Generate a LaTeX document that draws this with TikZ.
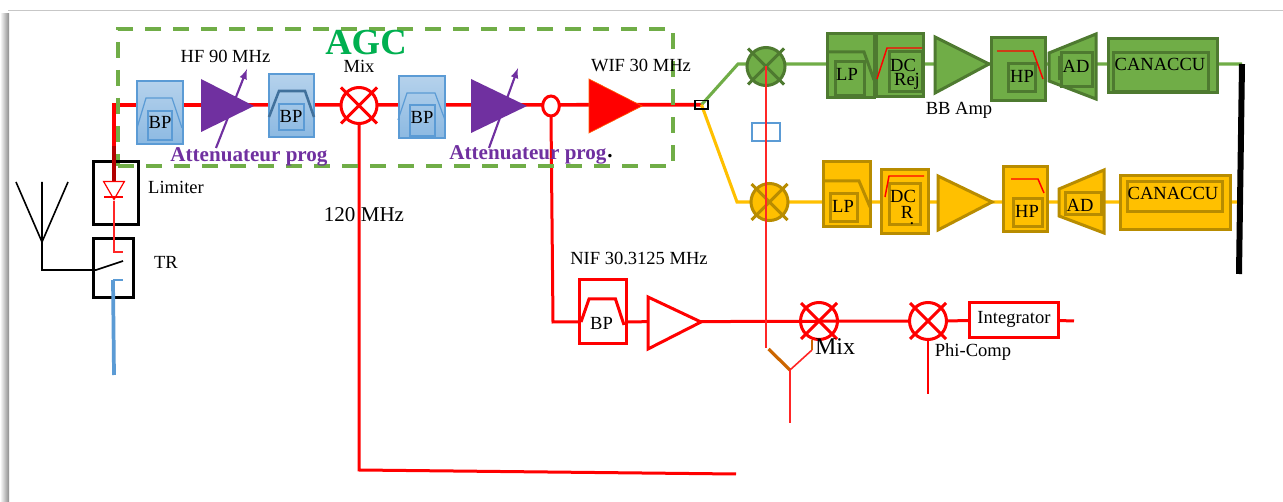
\documentclass[tikz,border=0pt]{standalone}
\usepackage{fontspec}
\setmainfont{Liberation Serif}
\usetikzlibrary{shapes.geometric,backgrounds}
\definecolor{gf}{HTML}{70AD47}\definecolor{gd}{HTML}{4E7A30}
\definecolor{yf}{HTML}{FFC000}\definecolor{yd}{HTML}{B88C00}
\definecolor{bl}{HTML}{5B9BD5}\definecolor{bd}{HTML}{41719C}
\definecolor{pu}{HTML}{7030A0}\definecolor{ag}{HTML}{00B050}
\newcommand\rbox[6]{\node[#1,rectangle,inner sep=0pt,outer sep=0pt,minimum width={(#5-#3)*0.75pt},minimum height={(#6-#4)*0.75pt}] (#2) at ({(#3+#5)/2},{(#4+#6)/2}) {};}
\newcommand\lab[5][lbl]{\node[#1] (#2) at (#3,#4) {#5};}
\newcommand\mixer[6]{\node[#1,circle,inner sep=0pt,outer sep=0pt,minimum size={2*#5*0.75pt}] (#2) at (#3,#4) {};
 \draw[#1,fill=none] (#2.center)+(-#6,-#6) -- +(#6,#6) (#2.center)+(-#6,#6) -- +(#6,-#6);}
\tikzset{x=0.75pt,y=-0.75pt,
 lbl/.style={inner sep=0pt,font=\fontsize{13.9}{14}\selectfont,text=black},
 att/.style={inner sep=0pt,font=\fontsize{15.8}{16}\selectfont\bfseries,text=pu},
 bpa/.style={draw=bl,line width=0.9pt,top color=bl!45!white,bottom color=bl!70!white},
 inb/.style={draw=bl,line width=0.8pt},
 gbox/.style={draw=gd,fill=gf,line width=2.25pt},
 gin/.style={draw=gd,line width=2.25pt},
 ybox/.style={draw=yd,fill=yf,line width=2.25pt},
 yin/.style={draw=yd,line width=2.25pt},
 rbx/.style={draw=red,fill=white,line width=2.25pt},
 kbx/.style={draw=black,line width=2.25pt},
 rline/.style={draw=red,line width=2.7pt},
 rbranch/.style={draw=red,line width=2.25pt},
 rthin/.style={draw=red!85!white,line width=1.2pt},
 rmid/.style={draw=red,line width=1.6pt},
 gline/.style={draw=gf,line width=2.3pt},
 yline/.style={draw=yf,line width=2.3pt},
 rmx/.style={draw=red,fill=white,line width=2.25pt},
 gmx/.style={draw=gd,fill=gf,line width=2.25pt},
 ymx/.style={draw=yd,fill=yf,line width=2.25pt},
 red cut/.style={draw=red,line width=1.1pt},
}
\begin{document}
\begin{tikzpicture}
\useasboundingbox (0,0) rectangle (1283,502);
\begin{scope}[on background layer]
 \fill[white] (0,0) rectangle (1283,502);
 \shade[left color=white,right color=black!45] (0,14) rectangle (9,502);
 \fill[black!22] (8,10) rectangle (1283,11.5);
\end{scope}
% named points
\coordinate (cin) at (114,105);
\coordinate (k120) at (359,470);
\coordinate (e120) at (736,474);
\coordinate (kN) at (553,322);
\coordinate (gk) at (738,64);
\coordinate (yk) at (737,202);
\coordinate (busT) at (1242,64);
\coordinate (busB) at (1239,274);
\coordinate (busY) at (1238,202);
\coordinate (ye) at (1074,321);
\coordinate (yl) at (768.5,349);
\coordinate (yj) at (790,370);
\coordinate (yr) at (812,350);
\coordinate (yt) at (812,340);
\coordinate (ys) at (790,423);
\coordinate (fvl) at (766,348);
\coordinate (stem3) at (928,394);
\coordinate (ant) at (42,242);
\coordinate (antb) at (42,270);
\coordinate (antt) at (42,182);
\coordinate (antl) at (16,182);
\coordinate (antr) at (68,182);
\coordinate (swa) at (96,270);
\coordinate (swb) at (123,261);
\coordinate (rxs) at (123,252);
\coordinate (rxk) at (114,252);
\coordinate (txs) at (123,280);
\coordinate (txk) at (113,280);
\coordinate (txe) at (114,375);
\coordinate (dk) at (114,146);

% AGC frame
\rbox{draw=gf,line width=3pt,dash pattern=on 12pt off 9pt}{agc}{118}{29}{673}{166}

% Limiter and TR
\rbox{kbx}{lim}{93}{162}{138}{225}
\rbox{kbx}{tr}{93}{239}{133}{298}
\node[draw=red,line width=0.9pt,regular polygon,regular polygon sides=3,shape border rotate=180,inner sep=0pt,minimum size=18pt] (dio) at (114,187.5) {};
\draw[red,line width=1pt] (104,197) -- (123,197);

% BP 1..3
\rbox{bpa}{bpA}{137}{81}{183}{144}
\draw[draw=bl,line width=0.9pt] (137,128) -- (146,98) -- (172,98) -- (182,128);
\rbox{inb}{bpAi}{148}{111}{172}{140}
\rbox{bpa}{bpB}{269}{74}{314}{137}
\draw[draw=bd,line width=1.9pt] (269,117) -- (279,91) -- (305,91) -- (314,117);
\rbox{inb}{bpBi}{279}{104}{304}{130}
\rbox{bpa}{bpC}{399}{76}{445}{138}
\draw[draw=bl,line width=0.9pt] (398,120) -- (407,93) -- (435,93) -- (445,120);
\rbox{inb}{bpCi}{410}{105}{435}{136}

% Amps
\fill[pu] (201,79) -- (254,106) -- (201,132) -- cycle;
\draw[pu,line width=1.6pt,-latex] (216,148) -- (247,69);
\fill[pu] (471,79) -- (527,106) -- (471,133) -- cycle;
\draw[pu,line width=1.6pt,-latex] (489,148) -- (518,68);
\draw[fill=red,draw=orange!70!red,line width=0.5pt] (589,79) -- (642,106) -- (589,133) -- cycle;

% Mixer 1, junction, out
\mixer{rmx}{mA}{359}{105.5}{18}{18}
\node[rmx,ellipse,inner sep=0pt,outer sep=0pt,minimum width=12.5pt,minimum height=15pt] (jn) at (551,106) {};
\rbox{draw=black,line width=1pt}{out}{695}{100.5}{708}{109}

% NIF branch
\rbox{rbx}{bpN}{579}{280}{626}{344}
\draw[red,line width=2.25pt,fill=white] (581,322) -- (589,299) -- (615.5,299) -- (624,325);
\draw[rbx] (648,297) -- (701,322) -- (648,349) -- cycle;
\mixer{rmx,fill=none}{mB}{819}{321}{18.5}{18}
\mixer{rmx}{mC}{928}{321}{18.5}{18}
\rbox{rbx}{intg}{969}{303}{1058}{338}

% Green chain
\mixer{gmx}{mG}{766}{66.5}{19}{18}
\rbox{gbox}{lpG}{827}{34}{874}{98}
\draw[gin] (827,52) -- (864,52) -- (874,80);
\rbox{gin}{lpGi}{835}{62}{864}{96}
\rbox{gbox}{dcG}{876}{34}{923}{97}
\rbox{gin}{dcGi}{889}{52}{922}{92}
\draw[red cut] (877,79) -- (887,48) -- (922,48);
\draw[gbox] (935,37) -- (989,64) -- (935,93) -- cycle;
\rbox{gbox}{hpG}{991}{38}{1045}{101}
\rbox{gin}{hpGi}{1008}{64}{1035}{92}
\draw[red cut] (997,51) -- (1033,51) -- (1043,79);
\draw[gbox] (1049,53) -- (1096,34) -- (1096,99) -- (1049,81) -- cycle;
\rbox{gin}{adGi}{1061}{53}{1092}{87}
\draw[gin] (1059,56) -- (1059,80);
\rbox{gbox}{caG}{1108}{39}{1217}{93}
\rbox{gin}{caGi}{1113}{53}{1208}{92}

% Yellow chain
\mixer{ymx}{mY}{769.5}{202}{18.5}{18}
\rbox{ybox}{lpY}{823}{162}{870}{227}
\draw[yin] (823,181) -- (859,181) -- (870,207);
\rbox{yin}{lpYi}{830}{194}{857}{222}
\rbox{ybox}{dcY}{881}{170}{928}{234}
\rbox{yin}{dcYi}{889}{184}{920}{225}
\draw[red cut] (885,197) -- (889,176) -- (924,176);
\draw[ybox] (938,176) -- (992,202) -- (938,230) -- cycle;
\rbox{ybox}{hpY}{1003}{167}{1047}{232}
\rbox{yin}{hpYi}{1013}{199}{1042}{227}
\draw[red cut] (1011,179) -- (1038,179) -- (1044,193);
\draw[ybox] (1059,189) -- (1104,170) -- (1104,233) -- (1059,216) -- cycle;
\rbox{yin}{adYi}{1065}{193}{1101}{215}
\rbox{ybox}{caY}{1120}{176}{1230}{230}
\rbox{yin}{caYi}{1127}{182}{1222}{212}
\rbox{draw=bl,fill=white,line width=1.9pt}{sm}{752}{123}{780}{141}

% Connectors
\begin{scope}[on background layer]
 \draw[rline] (dk) -- (cin) -- (out.center);
 \draw[rbranch] (mA.south) -- (k120) -- (e120);
 \draw[rbranch] (jn.south) -- (kN) -- (mC.west);
 \draw[rbranch] (mC.east) -- (intg.west);
 \draw[rbranch] (intg.east) -- (ye);
 \draw[gline] (out.center) -- (gk) -- (busT);
 \draw[yline] (out.center) -- (yk) -- (busY);
\end{scope}
\draw[draw=bl,line width=2.8pt] (txe) -- (txk);
\draw[draw=bl,line width=0.9pt] (txk) -- (txs);
\draw[draw=red!70!black,line width=2.4pt] (dk) -- (dio.north);
\draw[rthin] (dio.south) -- (rxk) -- (rxs);
\draw[black,line width=1.2pt] (antl) -- (ant) -- (antr) (antt) -- (antb) -- (swa) -- (swb);
\draw[black,line width=4.5pt] (busT) -- (busB);
\draw[rthin] (mG.center) -- (fvl);
\draw[draw=orange!80!black,line width=2.4pt] (yl) -- (yj);
\draw[rthin] (yj) -- (yr);
\draw[draw=orange!80!black,line width=0.8pt] (yr) -- (yt);
\draw[rthin] (yj) -- (ys);
\draw[rmid] (mC.south) -- (stem3);

% Labels
\lab[{inner sep=0pt,font=\fontsize{27.5}{28}\selectfont\bfseries,text=ag}]{tAGC}{366}{43}{AGC}
\lab{tHF}{225.5}{56}{HF 90 MHz}
\lab{tMixA}{359}{66}{Mix}
\lab{tWIF}{641}{65}{WIF 30 MHz}
\lab[att]{tAttA}{249}{157}{Attenuateur prog}
\lab[att]{tAttB}{528}{155}{Attenuateur prog}
\lab[{inner sep=0pt,font=\fontsize{15.8}{16}\selectfont\bfseries}]{tDot}{610}{156}{.}
\lab{tBPA}{160}{122}{BP}
\lab{tBPB}{291}{116}{BP}
\lab{tBPC}{422}{117}{BP}
\lab{tLim}{176}{187}{Limiter}
\lab{tTR}{166}{262}{TR}
\lab[{inner sep=0pt,font=\fontsize{15.8}{16}\selectfont}]{t120}{364}{215}{120 MHz}
\lab{tNIF}{639}{258}{NIF 30.3125 MHz}
\lab{tBPN}{601.5}{323}{BP}
\lab[{inner sep=0pt,font=\fontsize{18}{18}\selectfont}]{tMixB}{835}{347}{Mix}
\lab{tPhi}{973}{352}{Phi-Comp}
\lab{tInt}{1014}{319}{Integrator}
\lab{tLPG}{847}{74}{LP}
\lab{tDCG}{903}{65}{DC}
\lab{tRej}{907}{81}{Rej}
\lab{tBB}{959}{110}{BB Amp}
\lab{tHPG}{1022}{76}{HP}
\lab{tADG}{1076}{66}{AD}
\lab{tCAG}{1160}{64}{CANACCU}
\lab{tLPY}{843}{206}{LP}
\lab{tDCY}{903}{196}{DC}
\lab{tR}{907}{212}{R}
\lab{tDotY}{912}{224}{.}
\lab{tHPY}{1027}{211}{HP}
\lab{tADY}{1080}{205}{AD}
\lab{tCAY}{1173}{193}{CANACCU}
\end{tikzpicture}
\end{document}
